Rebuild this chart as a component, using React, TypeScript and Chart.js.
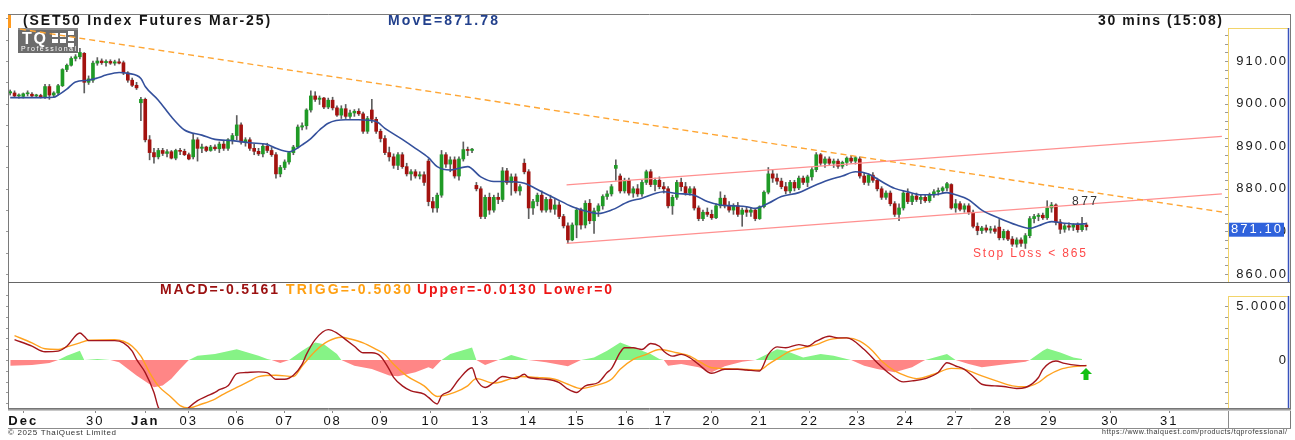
import React, { useEffect, useRef } from 'react';
import { Chart, registerables } from 'chart.js';

Chart.register(...registerables);

// ---------- price candles (30-min bars) ----------
const openValues = [
  902.5, 902.5, 901.8, 901.7, 902.3, 902.2, 901.8, 901.9, 901.6, 904.0,
  902.0, 902.5, 904.2, 908.0, 909.0, 910.6, 911.0, 911.8, 905.0, 905.5,
  909.5, 910.0, 909.6, 909.9, 909.5, 909.8, 909.6, 907.2, 905.5, 904.3,
  900.2, 901.0, 891.5, 888.5, 887.5, 889.0, 888.3, 888.7, 887.2, 889.0,
  888.8, 888.0, 887.5, 891.5, 889.5, 889.8, 889.0, 889.8, 889.4, 890.5,
  889.5, 891.5, 892.5, 895.0, 891.0, 891.5, 889.5, 888.8, 888.2, 890.0,
  889.0, 888.0, 883.5, 885.0, 886.3, 888.5, 889.8, 894.5, 894.8, 898.5,
  901.8, 901.0, 901.3, 899.2, 900.8, 899.0, 897.3, 898.8, 897.0, 897.8,
  898.2, 897.6, 893.5, 898.5, 896.3, 893.5, 891.8, 888.5, 887.5, 885.5,
  888.0, 885.2, 883.5, 884.0, 883.0, 883.3, 886.5, 877.0, 875.5, 878.5,
  888.0, 885.8, 886.8, 883.0, 887.0, 889.2, 889.0, 880.8, 880.0, 873.5,
  878.0, 875.0, 878.0, 877.5, 884.2, 881.5, 882.8, 879.5, 886.0, 884.0,
  875.5, 877.0, 878.5, 875.0, 877.5, 875.2, 876.2, 873.5, 871.3, 868.0,
  871.5, 875.0, 871.5, 876.6, 872.5, 874.8, 876.0, 878.2, 878.8, 884.8,
  883.0, 879.5, 882.0, 879.0, 880.0, 878.8, 881.5, 884.0, 881.0, 882.0,
  880.5, 880.0, 876.0, 878.0, 881.5, 880.5, 879.0, 880.0, 875.5, 873.0,
  874.5, 874.0, 873.2, 876.0, 877.8, 876.0, 875.0, 876.0, 874.0, 875.0,
  874.5, 875.0, 873.0, 875.8, 879.2, 883.5, 882.5, 881.8, 880.5, 879.5,
  881.5, 880.2, 882.5, 881.5, 882.8, 884.5, 888.0, 886.0, 887.0, 886.0,
  886.5, 885.3, 886.2, 887.2, 886.5, 887.0, 883.0, 881.5, 883.2, 882.0,
  880.0, 878.0, 879.0, 876.5, 874.0, 875.5, 879.0, 877.0, 878.3, 877.5,
  878.0, 877.2, 878.6, 879.3, 879.6, 880.2, 881.0, 875.5, 876.5, 875.2,
  876.0, 874.5, 871.2, 870.2, 870.8, 870.3, 870.6, 871.0, 868.5, 870.0,
  868.2, 867.0, 868.0, 867.2, 869.0, 873.0, 873.5, 873.8, 873.2, 875.5,
  876.2, 872.2, 870.5, 871.3, 871.0, 871.5, 870.4, 871.5,
];
const highValues = [
  903.2, 903.0, 902.3, 902.5, 903.0, 902.6, 902.2, 902.2, 904.5, 904.5,
  902.8, 904.5, 908.2, 909.3, 911.0, 911.5, 913.0, 912.0, 906.5, 910.0,
  910.8, 910.5, 910.3, 910.3, 910.2, 910.5, 910.0, 907.5, 906.0, 905.0,
  901.5, 901.3, 892.5, 889.5, 889.5, 889.5, 889.2, 889.0, 889.3, 889.5,
  889.3, 888.4, 893.0, 892.0, 890.5, 890.0, 890.2, 890.3, 891.0, 891.2,
  891.8, 893.0, 897.2, 895.5, 892.0, 892.0, 890.5, 889.5, 890.5, 890.7,
  889.7, 888.5, 885.5, 886.8, 888.8, 890.2, 895.0, 895.5, 898.8, 903.0,
  902.8, 901.8, 901.5, 901.3, 901.5, 899.5, 899.5, 899.8, 898.5, 898.6,
  898.8, 898.0, 897.0, 901.0, 896.8, 894.0, 892.5, 889.8, 888.2, 888.5,
  888.5, 886.0, 884.5, 884.5, 884.0, 884.0, 887.0, 878.0, 879.0, 889.0,
  888.5, 887.5, 887.5, 887.5, 891.0, 889.8, 889.5, 881.5, 880.5, 878.5,
  879.0, 878.5, 879.0, 885.0, 884.8, 883.5, 883.5, 881.0, 887.0, 884.5,
  877.5, 879.0, 879.5, 878.0, 878.5, 877.5, 877.0, 874.0, 872.0, 872.0,
  875.5, 875.5, 877.2, 877.5, 875.5, 876.5, 878.6, 879.5, 881.0, 886.8,
  883.5, 882.5, 882.5, 880.5, 881.0, 882.0, 884.4, 884.5, 882.5, 882.8,
  881.5, 880.5, 878.5, 882.0, 882.5, 881.5, 880.5, 880.5, 876.0, 875.0,
  875.5, 875.0, 876.5, 879.3, 878.5, 877.0, 876.5, 876.8, 875.5, 875.8,
  875.5, 875.3, 876.0, 879.5, 885.0, 884.5, 883.5, 882.5, 881.5, 882.0,
  882.0, 883.0, 883.0, 883.2, 885.0, 888.5, 888.3, 887.5, 887.5, 887.0,
  887.0, 886.5, 887.5, 887.8, 887.6, 887.5, 883.8, 883.5, 883.8, 882.5,
  880.5, 879.5, 879.5, 877.0, 876.5, 879.5, 880.0, 878.8, 879.0, 878.5,
  878.5, 879.0, 879.8, 880.2, 880.5, 881.5, 881.2, 877.5, 877.0, 876.5,
  876.5, 875.0, 872.0, 871.2, 871.5, 871.2, 871.3, 872.8, 870.5, 870.3,
  868.8, 868.5, 868.5, 869.5, 873.5, 874.0, 874.2, 874.3, 877.2, 876.8,
  876.5, 872.8, 871.8, 872.0, 871.8, 872.0, 873.3, 872.0,
];
const lowValues = [
  902.0, 901.5, 901.3, 901.3, 901.8, 901.5, 901.4, 901.3, 901.2, 901.0,
  901.5, 902.0, 904.0, 907.5, 908.8, 910.0, 910.5, 902.5, 904.5, 905.0,
  909.0, 909.2, 908.8, 909.2, 909.0, 909.3, 906.8, 905.0, 904.0, 903.3,
  896.0, 891.0, 886.8, 886.0, 887.0, 887.8, 887.5, 887.0, 886.8, 888.0,
  887.8, 886.8, 887.0, 886.5, 888.5, 888.7, 888.8, 889.0, 888.5, 889.0,
  889.0, 890.5, 891.5, 890.5, 890.0, 889.0, 888.0, 887.8, 887.5, 888.5,
  887.6, 882.5, 882.8, 884.5, 885.8, 888.0, 889.5, 893.8, 894.0, 898.0,
  900.5, 899.8, 898.8, 898.8, 898.5, 897.0, 896.5, 896.5, 896.5, 897.0,
  897.2, 893.0, 893.0, 895.5, 893.0, 891.0, 888.0, 886.5, 884.8, 884.5,
  884.8, 883.0, 882.0, 882.5, 882.3, 880.8, 876.0, 874.5, 874.5, 878.0,
  885.0, 884.0, 882.5, 882.0, 886.5, 887.8, 888.5, 879.5, 873.0, 873.0,
  874.0, 874.5, 876.5, 877.0, 881.0, 878.5, 879.0, 878.5, 883.5, 873.0,
  874.0, 876.0, 874.5, 874.5, 874.5, 874.0, 873.0, 870.8, 867.2, 867.8,
  868.5, 870.5, 870.8, 871.8, 869.5, 873.5, 875.2, 877.5, 878.3, 882.0,
  879.0, 879.0, 878.5, 878.0, 878.2, 878.2, 881.0, 880.5, 879.5, 880.0,
  879.0, 875.5, 874.0, 877.5, 879.5, 878.5, 878.5, 875.0, 872.5, 872.5,
  873.5, 872.8, 873.0, 875.5, 875.5, 874.5, 874.0, 873.5, 871.2, 873.5,
  873.5, 872.5, 872.8, 875.5, 878.8, 881.5, 881.0, 880.0, 878.8, 879.0,
  879.5, 879.8, 881.0, 880.5, 882.0, 884.0, 885.5, 885.0, 885.5, 885.0,
  884.8, 884.8, 885.5, 886.0, 885.8, 882.5, 881.0, 880.8, 881.5, 879.5,
  877.5, 877.5, 876.0, 873.5, 872.5, 875.0, 876.5, 876.3, 877.0, 876.5,
  876.8, 876.8, 878.0, 878.5, 879.0, 879.5, 875.2, 874.5, 874.8, 874.5,
  874.0, 870.8, 869.2, 869.5, 869.8, 869.6, 869.5, 868.0, 868.0, 867.8,
  866.5, 866.3, 866.5, 866.0, 868.5, 872.0, 872.5, 872.8, 872.8, 874.5,
  871.5, 869.5, 869.8, 870.3, 870.2, 869.8, 870.0, 870.3,
];
const closeValues = [
  902.8, 901.8, 902.0, 902.3, 902.5, 901.8, 901.9, 901.6, 904.0, 902.0,
  902.5, 904.2, 908.0, 909.0, 910.6, 911.0, 912.0, 905.0, 905.8, 909.5,
  910.0, 909.6, 909.9, 909.5, 909.8, 909.5, 907.2, 905.5, 904.3, 903.7,
  901.0, 891.5, 888.5, 887.5, 889.0, 888.3, 888.7, 887.2, 889.0, 888.8,
  888.0, 887.0, 891.5, 889.5, 889.8, 889.0, 889.8, 889.4, 890.5, 889.5,
  891.5, 892.5, 895.0, 891.0, 891.5, 889.5, 888.8, 888.2, 890.0, 889.0,
  888.0, 883.5, 885.0, 886.3, 888.5, 889.8, 894.5, 894.8, 898.5, 901.8,
  901.0, 901.3, 899.2, 900.8, 899.0, 897.3, 898.8, 897.0, 897.8, 898.2,
  897.6, 893.5, 896.5, 896.3, 893.5, 891.8, 888.5, 887.5, 885.5, 888.0,
  885.2, 883.5, 884.0, 883.0, 883.3, 881.5, 877.0, 875.5, 878.5, 888.0,
  885.8, 886.8, 883.0, 887.0, 889.2, 889.0, 889.3, 880.0, 873.5, 878.0,
  875.0, 878.0, 877.5, 884.2, 881.5, 882.8, 879.5, 880.5, 884.0, 875.5,
  877.0, 878.5, 875.0, 877.5, 875.2, 876.2, 873.5, 871.3, 868.0, 871.5,
  875.0, 871.5, 876.6, 872.5, 874.8, 876.0, 878.2, 878.8, 880.5, 885.5,
  879.5, 882.0, 879.0, 880.0, 878.8, 881.5, 884.0, 881.0, 882.0, 880.5,
  880.0, 876.0, 878.0, 881.5, 880.5, 879.0, 880.0, 875.5, 873.0, 874.5,
  874.0, 873.2, 876.0, 877.8, 876.0, 875.0, 876.0, 874.0, 875.0, 874.5,
  875.0, 873.0, 875.8, 879.2, 883.5, 882.5, 881.8, 880.5, 879.5, 881.5,
  880.2, 882.5, 881.5, 882.8, 884.5, 888.0, 886.0, 887.0, 886.0, 886.5,
  885.3, 886.2, 887.2, 886.5, 887.3, 883.0, 881.5, 883.2, 882.0, 880.0,
  878.0, 879.0, 876.5, 874.0, 875.5, 879.0, 877.0, 878.3, 877.5, 878.0,
  877.2, 878.6, 879.3, 879.6, 880.2, 881.2, 875.5, 876.5, 875.2, 876.0,
  874.5, 871.2, 870.2, 870.8, 870.3, 870.6, 870.0, 868.5, 870.0, 868.2,
  867.0, 868.0, 867.2, 869.0, 873.0, 873.5, 873.8, 873.2, 875.5, 876.2,
  872.2, 870.5, 871.3, 871.0, 871.5, 870.4, 871.5, 871.1,
];

// ---------- moving average (MovE) ----------
const maIndex = [
  0, 5, 10, 11, 13, 15, 18, 20, 22, 25, 27, 30, 31, 34, 37, 40, 44, 47, 51, 55,
  59, 61, 64, 65, 67, 69, 71, 73, 77, 80, 84, 86, 90, 93, 96, 98, 101, 105, 108, 111,
  114, 118, 122, 125, 129, 132, 135, 138, 142, 145, 148, 150, 153, 157, 160, 163, 166, 169, 171, 174,
  177, 181, 184, 188, 191, 194, 197, 200, 203, 206, 209, 212, 215, 217, 220, 223, 227, 231, 234, 236,
  239, 242, 245, 247,
];
const maValues = [
  901.4, 901.4, 901.5, 902.0, 903.4, 905.1, 905.5, 906.0, 906.7, 907.3, 907.1, 905.9, 904.0, 900.8, 896.9, 893.8, 892.6, 891.6, 891.3, 890.8,
  890.4, 889.5, 888.7, 889.0, 890.3, 891.8, 893.8, 895.4, 896.2, 896.2, 895.8, 894.2, 891.6, 889.5, 887.3, 885.2, 884.4, 885.2, 882.8, 881.7,
  881.7, 881.3, 879.3, 877.8, 875.8, 874.8, 874.2, 875.0, 877.0, 877.8, 878.9, 879.3, 878.9, 878.5, 877.0, 876.2, 876.0, 875.8, 875.4, 876.6,
  878.2, 879.1, 880.5, 882.1, 883.0, 884.0, 883.5, 881.7, 880.1, 879.3, 878.6, 878.6, 879.1, 878.6, 877.4, 875.0, 873.1, 871.5, 870.7, 871.3,
  872.3, 871.9, 871.7, 871.8,
];

// ---------- trend lines (bar index, price) ----------
const resistanceIndex = [2.25, 278.1];
const resistanceValues = [917.5, 874.55];
const channelUpperIndex = [127.7, 278.1];
const channelUpperValues = [880.9, 892.3];
const channelLowerIndex = [127.7, 278.1];
const channelLowerValues = [867.2, 878.8];

// ---------- MACD panel ----------
const macdIndex = [
  1, 5, 8, 11, 13, 16, 17, 18, 24, 26, 28, 29, 31, 33, 34, 36, 39, 41, 43, 45,
  47, 48, 50, 52, 54, 57, 59, 61, 63, 65, 67, 68, 70, 73, 75, 77, 79, 81, 83, 85,
  87, 88, 90, 92, 95, 96, 98, 99, 101, 103, 106, 107, 109, 111, 113, 116, 118, 119, 123, 126,
  128, 130, 132, 135, 137, 138, 140, 141, 143, 145, 147, 149, 150, 152, 154, 156, 158, 161, 164, 167,
  169, 172, 174, 176, 178, 181, 183, 185, 188, 190, 192, 196, 199, 202, 205, 207, 210, 213, 215, 217,
  219, 221, 223, 226, 228, 231, 233, 236, 237, 240, 242, 245, 247,
];
const macdValues = [
  1.89, 1.28, 0.76, 0.82, 1.28, 2.5, 2.2, 1.8, 1.8, 1.59, 0.82, 0.06, -1.16, -3.0, -4.38, -5.0, -5.2, -4.4, -3.76, -3.37,
  -3.0, -2.75, -2.39, -1.26, -1.16, -1.1, -1.16, -1.78, -1.78, -1.41, -0.4, 0.52, 1.89, 2.81, 2.5, 1.89, 1.28, 0.67, 0.67, 0.36,
  -0.86, -1.6, -2.39, -2.85, -3.15, -3.46, -4.07, -3.3, -2.85, -1.78, -0.71, -1.78, -2.54, -2.08, -1.53, -1.72, -1.32, -1.62, -1.78, -2.08,
  -2.69, -3.0, -2.39, -2.08, -1.16, -0.8, 0.7, 1.13, 1.13, 0.98, 1.53, 1.28, 0.82, 0.36, 0.52, 0.21, -0.4, -1.23, -0.86, -0.86,
  -0.92, -1.01, 0.52, 1.22, 1.13, 1.43, 1.28, 1.74, 2.2, 2.05, 2.05, 0.98, -0.25, -1.32, -2.02, -1.93, -1.72, -1.16, -0.25, -0.55,
  -0.86, -1.53, -2.24, -2.39, -2.45, -2.63, -2.54, -1.62, -0.86, -0.09, -0.31, -0.49, -0.52,
];
const triggIndex = [
  1, 5, 8, 11, 13, 16, 18, 24, 26, 28, 30, 32, 34, 37, 39, 41, 44, 47, 49, 52,
  55, 57, 61, 65, 67, 70, 73, 76, 78, 81, 84, 86, 88, 91, 95, 98, 102, 105, 107, 111,
  115, 117, 121, 125, 128, 131, 134, 138, 140, 143, 146, 149, 153, 156, 158, 161, 165, 168, 172, 174,
  177, 179, 182, 185, 188, 192, 195, 198, 200, 203, 206, 208, 212, 216, 219, 223, 227, 230, 233, 236,
  238, 241, 244, 247,
];
const triggValues = [
  2.26, 1.59, 1.04, 0.98, 1.22, 1.59, 1.83, 1.89, 1.74, 1.28, 0.36, -1.16, -2.39, -3.46, -4.22, -4.44, -4.07, -3.61, -3.15, -2.54,
  -1.93, -1.53, -1.41, -1.53, -0.55, 0.82, 1.74, 2.11, 1.95, 1.59, 0.98, 0.52, -0.4, -1.47, -2.39, -3.37, -3.0, -2.39, -1.72, -2.14,
  -1.72, -1.53, -1.62, -1.78, -2.24, -2.63, -2.39, -1.78, -0.86, 0.06, 0.52, 0.98, 0.67, 0.36, -0.1, -0.71, -0.8, -0.86, -0.92, -0.4,
  0.36, 0.82, 1.13, 1.43, 1.89, 2.05, 1.74, 0.82, -0.1, -1.01, -1.53, -1.72, -1.32, -0.77, -0.86, -1.47, -2.02, -2.39, -2.48, -2.08,
  -1.47, -0.86, -0.61, -0.5,
];
const histIndex = [
  0, 5, 9, 11, 13, 16, 17, 20, 23, 25, 29, 33, 35, 37, 39, 41, 43, 47, 52, 57,
  59, 60, 62, 64, 67, 70, 72, 75, 76, 79, 83, 87, 89, 93, 96, 97, 99, 101, 106, 107,
  109, 112, 115, 117, 119, 123, 128, 131, 134, 137, 140, 143, 147, 149, 150, 151, 154, 158, 161, 164,
  168, 171, 176, 178, 182, 186, 189, 192, 193, 196, 199, 203, 207, 209, 210, 215, 217, 220, 223, 227,
  233, 234, 237, 238, 241, 244, 246,
];
const histValues = [
  -0.52, -0.46, -0.28, 0, 0.4, 0.86, 0, 0.09, 0, -0.21, -1.44, -2.51, -2.35, -1.74, -0.83, 0, 0.4, 0.55, 1.0, 0.4,
  0.09, 0, -0.28, 0, 0.86, 1.62, 1.47, 0.55, 0, -0.52, -0.83, -1.44, -1.5, -1.13, -0.67, -0.83, 0, 0.55, 1.16, 0,
  -0.46, 0, 0.46, 0.24, 0, -0.21, -0.58, 0, 0.24, 0.86, 1.62, 1.16, 0.55, 0.09, 0, -0.52, -0.37, -0.67, -1.13, -0.58,
  -0.15, 0, 1.0, 0.86, 0.24, 0.55, 0.4, 0.09, 0, -0.52, -0.83, -1.13, -0.67, -0.21, 0, 0.55, 0, -0.37, -0.67, -0.46,
  -0.15, 0, 0.86, 1.07, 0.7, 0.24, 0.09,
];

// ---------- axes ----------
const tickPositions = [3, 19.5, 31, 41, 52, 63, 74, 85, 96.5, 108, 119, 130, 141.5, 150, 161, 172, 183.5, 194.5, 205.5, 217, 228, 238.5, 252.5, 266];
const tickLabels = ['Dec', '30', 'Jan', '03', '06', '07', '08', '09', '10', '13', '14', '15', '16', '17', '20', '21', '22', '23', '24', '27', '28', '29', '30', '31'];
const priceTicks = [860, 870, 880, 890, 900, 910];
const macdTicks = [0, 5];

const lastPrice = 871.1;
const targetLabel = '877';
const stopLabel = 'Stop Loss < 865';

const X_MIN = -0.5;
const X_MAX = 279.5;
const PRICE_MIN = 858.12;
const PRICE_MAX = 920.8;
const MACD_MIN = -4.44;
const MACD_MAX = 7.13;

const FONT = '"Liberation Sans", Arial, Helvetica, sans-serif';
Chart.defaults.font.family = FONT;

function drawFit(ctx: any, text: string, x: number, y: number, width: number, font: string, color: string, align: string = 'left') {
  ctx.save();
  ctx.font = font;
  ctx.letterSpacing = '0px';
  const w = ctx.measureText(text).width;
  const sp = text.length > 1 ? (width - w) / (text.length - 1) : 0;
  ctx.letterSpacing = sp.toFixed(2) + 'px';
  ctx.fillStyle = color;
  ctx.textBaseline = 'middle';
  ctx.textAlign = 'left';
  const sx = align === 'right' ? x - width : align === 'center' ? x - width / 2 : x;
  ctx.fillText(text, sx, y);
  ctx.restore();
}

function seg(ctx: any, x1: number, y1: number, x2: number, y2: number, color: string, w = 1) {
  ctx.save();
  ctx.strokeStyle = color;
  ctx.lineWidth = w;
  ctx.setLineDash([]);
  ctx.beginPath();
  ctx.moveTo(x1, y1);
  ctx.lineTo(x2, y2);
  ctx.stroke();
  ctx.restore();
}

const pricePlugin = {
  id: 'priceDecor',
  beforeDraw(chart: any) {
    chart.ctx.letterSpacing = '2px';
  },
  beforeDatasetsDraw(chart: any) {
    const ctx = chart.ctx;
    ctx.save();
    ctx.fillStyle = '#6c6c6c';
    ctx.fillRect(18, 28, 60, 25);
    ctx.fillStyle = '#8a8a8a';
    ctx.fillRect(18, 28, 60, 2);
    ctx.fillStyle = '#ffffff';
    const blocks = [[52, 33], [60, 33], [68, 31], [52, 39], [60, 39], [68, 37], [68, 43]];
    blocks.forEach(([bx, by]) => ctx.fillRect(bx, by, 6, 4));
    ctx.restore();
    drawFit(ctx, 'TQ', 22, 40, 24, 'bold 16px ' + FONT, '#ffffff');
    drawFit(ctx, 'Professional', 21, 49.5, 55, '7px ' + FONT, '#ffffff');
  },
  afterDraw(chart: any) {
    const ctx = chart.ctx;
    const ys = chart.scales.y;
    const grey = '#7a7a7a';
    seg(ctx, 8, 14.5, 1291, 14.5, grey);
    seg(ctx, 8.5, 14, 8.5, 283, grey);
    seg(ctx, 8, 282.5, 1291, 282.5, '#666666', 1.2);
    seg(ctx, 1290.5, 14, 1290.5, 283, grey);
    ctx.save();
    ctx.fillStyle = '#ff9a1e';
    ctx.fillRect(8, 15, 3, 13);
    ctx.restore();
    seg(ctx, 1228.5, 28, 1228.5, 282, '#f2d46a');
    seg(ctx, 1228, 28.5, 1288, 28.5, '#f2d46a');
    seg(ctx, 1288.5, 28, 1288.5, 282, '#3852bd', 1.5);
    for (let v = 860; v <= 920; v += 2) {
      const py = Math.round(ys.getPixelForValue(v)) + 0.5;
      if (py > 30 && py < 281) seg(ctx, 1225, py, 1228, py, '#9a9a9a');
    }
    for (let v = 860; v <= 920; v += 5) {
      const py = Math.round(ys.getPixelForValue(v)) + 0.5;
      if (py > 16 && py < 281) seg(ctx, 6, py, 8, py, '#9a9a9a');
    }
    drawFit(ctx, '(SET50 Index Futures Mar-25)', 23, 21.5, 247, 'bold 14px ' + FONT, '#151515');
    drawFit(ctx, 'MovE=871.78', 388, 21.5, 110, 'bold 14px ' + FONT, '#22408c');
    drawFit(ctx, '30 mins (15:08)', 1098, 21.5, 124, 'bold 14px ' + FONT, '#151515');
    drawFit(ctx, targetLabel, 1072, 201.5, 25, '12px ' + FONT, '#333333');
    drawFit(ctx, stopLabel, 973, 253.5, 113, '12px ' + FONT, '#ff4a4a');
    const py = ys.getPixelForValue(lastPrice);
    ctx.save();
    ctx.fillStyle = '#2f62dc';
    ctx.fillRect(1229, py - 4, 55, 14);
    ctx.restore();
    drawFit(ctx, lastPrice.toFixed(2), 1231, py + 3, 50, '13px ' + FONT, '#ffffff');
  },
};

const macdPlugin = {
  id: 'macdDecor',
  beforeDraw(chart: any) {
    chart.ctx.letterSpacing = '2px';
  },
  afterDraw(chart: any) {
    const ctx = chart.ctx;
    const ys = chart.scales.y;
    const grey = '#7a7a7a';
    seg(ctx, 8.5, 0, 8.5, 126, grey);
    seg(ctx, 1290.5, 0, 1290.5, 146, grey);
    seg(ctx, 1228.5, 13, 1228.5, 125, '#f2d46a');
    seg(ctx, 1228, 13.5, 1288, 13.5, '#f2d46a');
    seg(ctx, 1288.5, 13, 1288.5, 125, '#3852bd', 1.5);
    for (let v = -4; v <= 7; v += 1) {
      const py = Math.round(ys.getPixelForValue(v)) + 0.5;
      if (py > 14 && py < 124) seg(ctx, 1225, py, 1228, py, '#9a9a9a');
      if (py > 2 && py < 124) seg(ctx, 6, py, 8, py, '#9a9a9a');
    }
    seg(ctx, 8, 125.5, 1291, 125.5, '#767676');
    seg(ctx, 8, 126.5, 1291, 126.5, '#9c9c9c');
    seg(ctx, 8, 127.5, 1291, 127.5, '#c8c8c8');
    seg(ctx, 8, 145.5, 1291, 145.5, '#8c8c8c');
    seg(ctx, 1228.5, 128, 1228.5, 145, '#8c8c8c');
    drawFit(ctx, 'MACD=-0.5161', 160, 7.5, 118, 'bold 14px ' + FONT, '#9b1010');
    drawFit(ctx, 'TRIGG=-0.5030', 286, 7.5, 125, 'bold 14px ' + FONT, '#ffa012');
    drawFit(ctx, 'Upper=-0.0130 Lower=0', 417, 7.5, 195, 'bold 14px ' + FONT, '#ee1515');
    ctx.save();
    ctx.fillStyle = '#12c012';
    ctx.beginPath();
    ctx.moveTo(1086, 85);
    ctx.lineTo(1092, 91);
    ctx.lineTo(1080, 91);
    ctx.closePath();
    ctx.fill();
    ctx.fillRect(1083.5, 91, 5, 6);
    ctx.restore();
    drawFit(ctx, '\u00a9 2025 ThaiQuest Limited', 8, 149.5, 108, '8px ' + FONT, '#333333');
    drawFit(ctx, 'https://www.thaiquest.com/products/tqprofessional/', 1287, 149.5, 185, '7px ' + FONT, '#333333', 'right');
  },
};

function pts(xs: number[], ys: number[]) {
  return xs.map((x, k) => ({ x, y: ys[k] }));
}

export default function App() {
  const priceRef = useRef<HTMLCanvasElement>(null);
  const macdRef = useRef<HTMLCanvasElement>(null);

  useEffect(() => {
    const idx = openValues.map((_, i) => i);
    const bodyColors = idx.map((i) => (closeValues[i] >= openValues[i] ? '#1f9a26' : '#a3120f'));

    const priceChart = new Chart(priceRef.current as HTMLCanvasElement, {
      type: 'bar',
      data: {
        datasets: [
          { type: 'line', label: 'MovE', data: pts(maIndex, maValues), borderColor: '#34509c', borderWidth: 1.6, pointRadius: 0, cubicInterpolationMode: 'monotone', fill: false } as any,
          { type: 'line', label: 'resistance', data: pts(resistanceIndex, resistanceValues), borderColor: '#ffa634', borderWidth: 1.4, borderDash: [6, 4], pointRadius: 0, fill: false } as any,
          { type: 'line', label: 'upper', data: pts(channelUpperIndex, channelUpperValues), borderColor: '#ff9090', borderWidth: 1.2, pointRadius: 0, fill: false } as any,
          { type: 'line', label: 'lower', data: pts(channelLowerIndex, channelLowerValues), borderColor: '#ff9090', borderWidth: 1.2, pointRadius: 0, fill: false } as any,
          { type: 'bar', label: 'body', data: idx.map((i) => ({ x: i, y: [openValues[i], closeValues[i]] })), backgroundColor: bodyColors, barThickness: 3, grouped: false, minBarLength: 1 } as any,
          { type: 'bar', label: 'wick', data: idx.map((i) => ({ x: i, y: [lowValues[i], highValues[i]] })), backgroundColor: '#5e5e5e', barThickness: 1, grouped: false } as any,
        ],
      },
      options: {
        responsive: false,
        animation: false,
        events: [],
        layout: { padding: { left: 8, right: 7, top: 15, bottom: 1 } },
        plugins: { legend: { display: false }, tooltip: { enabled: false } },
        scales: {
          x: { type: 'linear', min: X_MIN, max: X_MAX, display: false, offset: false },
          y: {
            type: 'linear',
            position: 'right',
            min: PRICE_MIN,
            max: PRICE_MAX,
            grid: { display: false },
            border: { display: false },
            afterBuildTicks: (s: any) => {
              s.ticks = priceTicks.map((v) => ({ value: v }));
            },
            afterFit: (s: any) => {
              s.width = 60;
              s.paddingTop = 0;
              s.paddingBottom = 0;
            },
            ticks: { callback: (v: any) => Number(v).toFixed(2), font: { family: FONT, size: 13 }, color: '#1a1a1a', crossAlign: 'far', padding: 20 },
          },
        } as any,
      },
      plugins: [pricePlugin],
    } as any);

    const macdChart = new Chart(macdRef.current as HTMLCanvasElement, {
      type: 'line',
      data: {
        datasets: [
          { label: 'MACD', data: pts(macdIndex, macdValues), borderColor: '#a3161c', borderWidth: 1.4, pointRadius: 0, cubicInterpolationMode: 'monotone', fill: false } as any,
          { label: 'TRIGG', data: pts(triggIndex, triggValues), borderColor: '#ffa21f', borderWidth: 1.4, pointRadius: 0, cubicInterpolationMode: 'monotone', fill: false } as any,
          { label: 'Hist', data: pts(histIndex, histValues), borderColor: 'rgba(0,0,0,0)', borderWidth: 0, pointRadius: 0, tension: 0, fill: { target: 'origin', above: '#86f386', below: '#ff8686' } } as any,
        ],
      },
      options: {
        responsive: false,
        animation: false,
        events: [],
        layout: { padding: { left: 8, right: 7, top: 0, bottom: 12 } },
        plugins: { legend: { display: false }, tooltip: { enabled: false } },
        scales: {
          x: {
            type: 'linear',
            position: 'bottom',
            min: X_MIN,
            max: X_MAX,
            border: { display: false },
            grid: { drawOnChartArea: false, drawTicks: true, tickLength: 5, color: '#8a8a8a' },
            afterBuildTicks: (s: any) => {
              s.ticks = tickPositions.map((v) => ({ value: v }));
            },
            afterFit: (s: any) => {
              s.height = 20;
              s.paddingLeft = 0;
              s.paddingRight = 0;
            },
            ticks: {
              autoSkip: false,
              maxRotation: 0,
              minRotation: 0,
              padding: 1,
              color: '#111111',
              callback: (_v: any, i: number) => tickLabels[i],
              font: (c: any) => ({ family: FONT, size: 13, weight: /^[A-Za-z]/.test(tickLabels[c.index] || '') ? 'bold' : 'normal' }),
            },
          },
          y: {
            type: 'linear',
            position: 'right',
            min: MACD_MIN,
            max: MACD_MAX,
            grid: { display: false },
            border: { display: false },
            afterBuildTicks: (s: any) => {
              s.ticks = macdTicks.map((v) => ({ value: v }));
            },
            afterFit: (s: any) => {
              s.width = 60;
              s.paddingTop = 0;
              s.paddingBottom = 0;
            },
            ticks: { callback: (v: any) => (Number(v) === 0 ? '0' : Number(v).toFixed(4)), font: { family: FONT, size: 13 }, color: '#1a1a1a', crossAlign: 'far', padding: 20 },
          },
        } as any,
      },
      plugins: [macdPlugin],
    } as any);

    return () => {
      priceChart.destroy();
      macdChart.destroy();
    };
  }, []);

  return (
    <div style={{ position: 'absolute', left: 0, top: 0, width: 1295, height: 440, background: '#ffffff', overflow: 'hidden' }}>
      <canvas ref={priceRef} width={1295} height={283} style={{ position: 'absolute', left: 0, top: 0, width: 1295, height: 283 }} />
      <canvas ref={macdRef} width={1295} height={157} style={{ position: 'absolute', left: 0, top: 283, width: 1295, height: 157 }} />
    </div>
  );
}
